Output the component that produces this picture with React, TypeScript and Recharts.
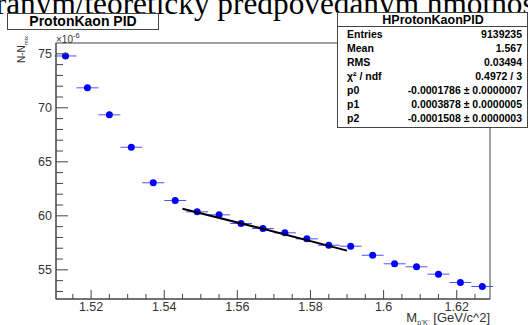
import { ScatterChart, Scatter, XAxis, YAxis, ErrorBar } from "recharts";

// bin centres (GeV/c^2) and N-N_mix values (x 1e-6)
const binCenters = [
  1.513, 1.519, 1.525, 1.531, 1.537, 1.543, 1.549, 1.555, 1.561, 1.567,
  1.573, 1.579, 1.585, 1.591, 1.597, 1.603, 1.609, 1.615, 1.621, 1.627,
];
const counts = [
  74.8, 71.85, 69.35, 66.35, 63.06, 61.42, 60.37, 60.09, 59.29, 58.82,
  58.43, 57.87, 57.28, 57.19, 56.35, 55.56, 55.28, 54.6, 53.83, 53.46,
];
const binHalfWidth = 0.003;

// fitted curve
const fitX = [1.545, 1.5675, 1.59];
const fitY = [60.65, 58.75, 56.78];

const xTicks = [
  1.515, 1.52, 1.525, 1.53, 1.535, 1.54, 1.545, 1.55, 1.555, 1.56, 1.565, 1.57,
  1.575, 1.58, 1.585, 1.59, 1.595, 1.6, 1.605, 1.61, 1.615, 1.62, 1.625,
];
const xMajor = [1.52, 1.54, 1.56, 1.58, 1.6, 1.62];
const yTicks = [
  53, 54, 55, 56, 57, 58, 59, 60, 61, 62, 63, 64, 65, 66, 67, 68, 69, 70, 71, 72, 73, 74, 75,
];
const yMajor = [55, 60, 65, 70, 75];

const statRows = [
  ["Entries", "9139235"],
  ["Mean", "1.567"],
  ["RMS", "0.03494"],
  ["χ² / ndf", "0.4972 / 3"],
  ["p0", "-0.0001786 ± 0.0000007"],
  ["p1", "0.0003878 ± 0.0000005"],
  ["p2", "-0.0001508 ± 0.0000003"],
];

const points = binCenters.map((x, i) => ({ x, y: counts[i], xErr: binHalfWidth }));
const fit = fitX.map((x, i) => ({ x, y: fitY[i] }));

const sans = "'Liberation Sans', Arial, sans-serif";
const axisColor = "#444";
const TM = 6;

const XTick = (props: any) => {
  const { x, y, payload } = props;
  const major = xMajor.some((m) => Math.abs(m - payload.value) < 1e-6);
  const ay = y - TM;
  return (
    <g>
      <line x1={x} x2={x} y1={ay} y2={ay - (major ? 9 : 5)} stroke={axisColor} />
      {major && (
        <text x={x} y={ay + 12} textAnchor="middle" fontSize={12.5} fontFamily={sans} fill="#333">
          {String(payload.value)}
        </text>
      )}
    </g>
  );
};

const YTick = (props: any) => {
  const { x, y, payload } = props;
  const major = yMajor.includes(payload.value);
  const ax = x + TM;
  return (
    <g>
      <line x1={ax} x2={ax + (major ? 12 : 7)} y1={y} y2={y} stroke={axisColor} />
      {major && (
        <text x={ax - 4} y={y + 4.5} textAnchor="end" fontSize={12.5} fontFamily={sans} fill="#333">
          {payload.value}
        </text>
      )}
    </g>
  );
};

const NoShape = () => <g />;

export default function App() {
  return (
    <div style={{ position: "fixed", left: 0, top: 0, width: 528, height: 325, background: "#fff", overflow: "hidden" }}>
      <ScatterChart width={528} height={325} margin={{ top: 43, right: 38, bottom: 0, left: 0 }}>
        <XAxis
          type="number"
          dataKey="x"
          domain={[1.5104, 1.6291]}
          ticks={xTicks}
          interval={0}
          allowDataOverflow
          height={26}
          tickSize={0}
          tickLine={false}
          tickMargin={TM}
          tick={<XTick />}
          stroke={axisColor}
        />
        <YAxis
          type="number"
          dataKey="y"
          domain={[52.3, 76.0]}
          ticks={yTicks}
          interval={0}
          allowDataOverflow
          width={56}
          tickSize={0}
          tickLine={false}
          tickMargin={TM}
          tick={<YTick />}
          stroke={axisColor}
        />
        <Scatter data={points} fill="#0000ff" isAnimationActive={false}
          shape={(p: any) => <circle cx={p.cx} cy={p.cy} r={3.5} fill="#0000ff" />}>
          <ErrorBar dataKey="xErr" direction="x" width={0} stroke="#5050ff" strokeWidth={1} />
        </Scatter>
        <Scatter data={fit} isAnimationActive={false} line={{ stroke: "#000", strokeWidth: 2 }} shape={NoShape} />
      </ScatterChart>

      <svg width={528} height={325} style={{ position: "absolute", left: 0, top: 0, pointerEvents: "none" }}>
        {/* frame */}
        <rect x={56} y={43} width={434} height={256} fill="none" stroke={axisColor} />
        {/* clipped document text above the figure */}
        <text x={-72} y={14} fontSize={31.3} fontFamily="'Liberation Serif', serif" fill="#000">
          nameranym/teoreticky predpovedanym hmotnostiam
        </text>
        {/* title box */}
        <rect x={7.5} y={13.5} width={151} height={16} fill="#fff" stroke={axisColor} />
        <text x={83} y={26} textAnchor="middle" fontSize={14} fontWeight="bold" fontFamily={sans} fill="#000">
          ProtonKaon PID
        </text>
        {/* stats box */}
        <rect x={337.5} y={12.5} width={190} height={115} fill="#fff" stroke={axisColor} />
        <line x1={337.5} x2={527.5} y1={26.5} y2={26.5} stroke={axisColor} />
        <text x={433} y={24} textAnchor="middle" fontSize={12.5} fontWeight="bold" fontFamily={sans} fill="#000">
          HProtonKaonPID
        </text>
        {statRows.map(([k, v], i) => (
          <g key={k}>
            <text x={347} y={38 + i * 14} fontSize={10.5} fontWeight="bold" fontFamily={sans} fill="#000">
              {k}
            </text>
            <text x={522} y={38 + i * 14} textAnchor="end" fontSize={10.5} fontWeight="bold" fontFamily={sans} fill="#000">
              {v}
            </text>
          </g>
        ))}
        {/* axis titles */}
        <text x={56} y={43} fontSize={10} fontFamily={sans} fill="#333">
          ×10<tspan dy={-5} fontSize={7.5}>-6</tspan>
        </text>
        <text transform="translate(25,63) rotate(-90)" fontSize={10} fontFamily={sans} fill="#333">
          N-N<tspan dy={2.5} fontSize={6}>mix</tspan>
        </text>
        <text x={490} y={322} textAnchor="end" fontSize={13} fontFamily={sans} fill="#333">
          M<tspan dy={3} fontSize={7}>p⁺K⁻</tspan>
          <tspan dy={-3}> [GeV/c^2]</tspan>
        </text>
      </svg>
    </div>
  );
}
